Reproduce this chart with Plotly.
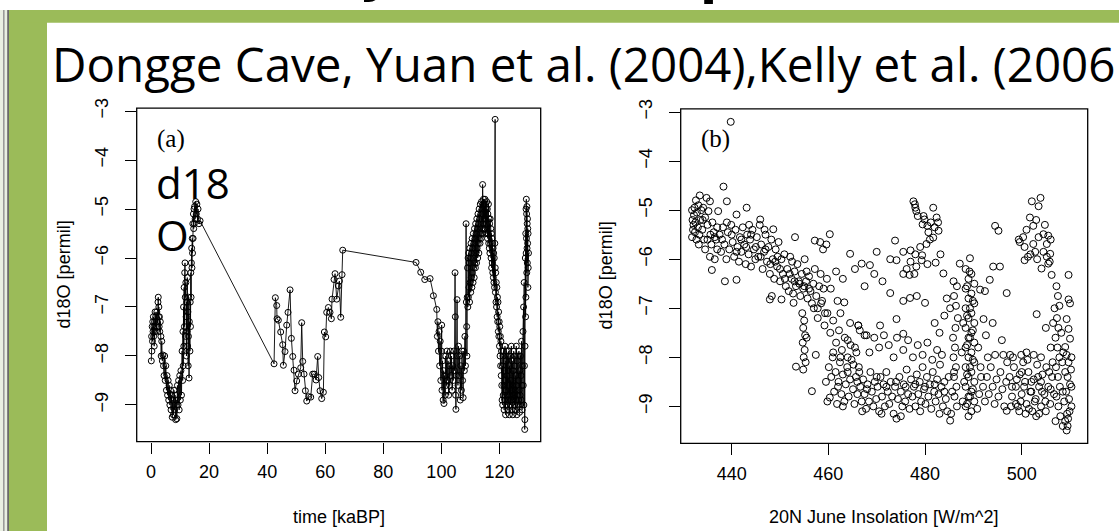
import plotly.graph_objects as go

W, H = 1119, 531

# ---------------- data: panel (a) time [kaBP] vs d18O ----------------
seg_holocene = [(0.1,-8.1),(0.2,-7.6),(0.3,-7.9),(0.4,-7.4),(0.5,-7.7),(0.6,-7.3),(0.7,-7.5),(0.8,-7.2),(0.9,-7.6),
    (1.0,-7.4),(1.1,-7.8),(1.2,-7.3),(1.3,-7.5),(1.4,-7.1),(1.5,-7.4),(1.6,-7.2),(1.8,-7.5),(2.0,-7.1),(2.2,-7.3),
    (2.4,-6.9),(2.5,-6.8),(2.6,-7.2),(2.7,-7.0),(2.8,-7.4),(2.9,-7.2),(3.0,-7.5),(3.2,-7.3),(3.4,-7.6),(3.5,-8.0),
    (3.7,-7.7),(3.9,-8.1),(4.1,-7.98),(4.3,-8.2)]
seg_deglacial = [(4.5,-8.4),(4.7,-8.0),(4.9,-8.5),(5.1,-8.2),(5.3,-8.7),(5.5,-8.4),(5.7,-8.8),(5.9,-8.5),(6.1,-8.9),
    (6.3,-8.6),(6.5,-9.0),(6.7,-8.7),(6.9,-9.1),(7.1,-8.8),(7.3,-9.25),(7.5,-8.9),(7.7,-9.2),(7.9,-8.7),(8.1,-9.1),
    (8.3,-8.8),(8.5,-9.3),(8.7,-8.9),(8.9,-9.28),(9.1,-8.6),(9.3,-9.0),(9.5,-8.5),(9.7,-9.1),(9.9,-8.4),(10.1,-8.9)]
seg_rise = [(10.3,-8.3),(10.5,-8.8),(10.7,-7.9),(10.9,-8.5),(11.0,-7.5),(11.1,-8.2),(11.2,-7.0),(11.3,-7.8),(11.4,-6.6),
    (11.5,-7.4),(11.6,-6.3),(11.7,-6.1),(11.8,-6.8),(11.9,-7.6),(12.0,-6.5),(12.1,-7.2),(12.2,-8.0),(12.3,-6.9),
    (12.4,-7.5),(12.5,-6.4),(12.6,-7.8),(12.7,-7.1),(12.8,-8.2),(12.9,-7.6),(13.0,-6.8),(13.1,-8.45),(13.2,-7.3),
    (13.4,-7.9),(13.5,-6.9),(13.6,-7.4),(13.7,-6.3),(13.8,-6.8),(13.9,-6.1),(14.0,-5.8),(14.1,-6.2),(14.2,-5.6),
    (14.3,-5.9),(14.4,-5.3),(14.5,-5.6),(14.6,-5.1),(14.7,-5.4),(14.8,-5.0),(14.9,-5.3),(15.0,-4.95),(15.2,-5.2),
    (15.4,-4.85),(15.6,-5.1),(15.8,-4.9),(16.0,-5.2),(16.2,-5.0),(16.5,-5.3),(16.9,-5.24)]
seg_sparse = [(42.37,-8.16),(42.82,-6.81),(43.28,-6.97),(43.4,-7.24),(43.86,-7.27),(44.66,-7.51),(45.35,-7.77),
    (45.58,-8.19),(46.15,-7.91),(46.73,-7.37),(47.19,-7.11),(47.88,-6.65),(48.34,-7.64),(48.8,-8.01),(49.25,-8.29),
    (49.6,-8.71),(50.17,-8.51),(50.75,-8.37),(51.55,-8.24),(51.89,-7.32),(52.24,-8.11),(52.7,-8.37),(53.16,-8.71),
    (53.62,-8.92),(54.31,-8.83),(55.0,-8.84),(55.68,-8.37),(56.26,-8.37),(56.83,-8.49),(57.4,-8.01),(57.75,-8.44),
    (58.21,-8.71),(58.78,-8.87),(59.36,-8.74),(59.7,-7.51),(60.16,-7.61),(60.5,-7.11),(61.08,-7.01),(61.65,-7.11),
    (62.11,-7.24),(62.34,-6.84),(63.03,-6.44),(63.38,-6.32),(63.95,-6.84),(64.52,-6.57),(64.87,-6.47),(65.33,-7.21),
    (65.79,-6.34),(66.02,-5.84),(91.27,-6.09),(92.88,-6.29),(94.26,-6.44),(96.1,-6.42),(97.24,-6.77),(98.39,-7.05)]
seg_mis5a = [(98.6,-7.6),(98.8,-7.3),(99.0,-7.9),(99.2,-7.5),(99.4,-8.2),(99.6,-7.7),(99.8,-8.5),(100.0,-7.9),
    (100.1,-7.37),(100.2,-8.7),(100.4,-8.1),(100.6,-8.9),(100.8,-8.3),(100.9,-8.97),(101.1,-8.4),(101.3,-8.8),(101.5,-8.0),
    (101.7,-8.6),(101.9,-7.9),(102.1,-8.5),(102.3,-8.1),(102.5,-8.8),(102.7,-8.2),(102.9,-8.6),(103.1,-7.9),
    (103.3,-8.4),(103.5,-8.0),(103.7,-8.7),(103.9,-8.2),(104.1,-8.5),(104.3,-7.9),(104.5,-8.3),(104.7,-6.3),
    (104.8,-7.2),(104.9,-8.8),(105.0,-9.09),(105.2,-8.4),(105.4,-6.85),(105.5,-8.0),(105.7,-8.6),(105.9,-7.8),
    (106.1,-8.4),(106.3,-8.0),(106.5,-8.9),(106.7,-8.2),(106.9,-8.7),(107.1,-7.9),(107.3,-8.5),(107.5,-8.85),
    (107.7,-7.9),(107.9,-8.3),(108.1,-7.6),(108.3,-8.2),(108.5,-5.3),(108.6,-6.9),(108.7,-7.4),(108.8,-8.0),(108.9,-6.8)]
seg_mis5c_up = [(109.0,-6.2),(109.1,-7.0),(109.2,-6.0),(109.3,-6.8),(109.4,-5.9),(109.5,-6.6),(109.6,-6.1),(109.7,-6.9),
    (109.8,-5.8),(109.9,-6.5),(110.0,-6.0),(110.1,-6.7),(110.2,-5.7),(110.3,-6.4),(110.4,-5.9),(110.5,-6.6),(110.6,-5.6),
    (110.7,-6.3),(110.8,-5.8),(110.9,-6.5),(111.0,-5.5),(111.1,-6.2),(111.2,-5.7),(111.3,-6.4),(111.4,-5.4),(111.5,-6.1),
    (111.6,-5.6),(111.7,-6.2),(111.8,-5.3),(111.9,-5.9),(112.0,-5.5),(112.1,-6.1),(112.2,-5.2),(112.3,-5.8),(112.4,-5.4),
    (112.5,-6.0),(112.6,-5.1),(112.7,-5.7),(112.8,-5.3),(112.9,-5.9),(113.0,-5.0),(113.1,-5.6),(113.2,-5.2),(113.3,-5.7),
    (113.4,-4.9),(113.5,-5.5),(113.6,-5.1),(113.7,-5.6),(113.8,-4.85),(113.9,-5.4),(114.0,-5.0),(114.1,-5.5),(114.2,-4.5),
    (114.3,-4.9),(114.4,-5.3),(114.5,-4.8),(114.6,-5.4),(114.7,-4.9),(114.8,-5.2)]
seg_mis5c_down = [(115.0,-4.8),(115.1,-5.4),(115.2,-4.9),(115.3,-5.5),(115.4,-5.0),(115.5,-5.3),(115.6,-4.85),(115.7,-5.5),
    (115.8,-5.0),(115.9,-5.6),(116.0,-5.1),(116.1,-5.5),(116.2,-4.9),(116.3,-5.7),(116.4,-5.2),(116.5,-5.8),(116.6,-5.3),
    (116.7,-5.9),(116.8,-5.2),(116.9,-5.7),(117.0,-5.4),(117.1,-6.0),(117.2,-5.5),(117.3,-6.2),(117.4,-5.6),(117.5,-6.1),
    (117.6,-5.7),(117.7,-6.3),(117.8,-5.8),(117.9,-6.4),(118.0,-5.9),(118.1,-6.5),(118.2,-6.0),(118.3,-6.6),(118.4,-5.7),
    (118.5,-3.17),(118.55,-6.2),(118.6,-6.7),(118.7,-6.3),(118.8,-6.9),(118.9,-6.5),(119.0,-7.0),(119.1,-6.6),(119.2,-7.2),
    (119.3,-6.8),(119.4,-7.3),(119.5,-6.9),(119.6,-7.5),(119.7,-7.1),(119.8,-7.6),(119.9,-7.3),(120.0,-7.8),(120.1,-7.4),
    (120.2,-8.0),(120.3,-7.6),(120.4,-8.2),(120.5,-7.7),(120.6,-8.4),(120.7,-7.9),(120.8,-8.6)]
seg_mis5e = [(120.9,-8.9),(121.0,-8.2),(121.1,-9.0),(121.2,-8.0),(121.3,-8.8),(121.4,-7.9),(121.5,-8.6),(121.6,-9.1),
    (121.7,-8.3),(121.8,-8.9),(121.9,-7.8),(122.0,-8.5),(122.1,-9.2),(122.2,-8.1),(122.3,-8.7),(122.4,-7.9),(122.5,-9.0),
    (122.6,-8.4),(122.7,-8.8),(122.8,-8.0),(122.9,-9.1),(123.0,-8.3),(123.1,-8.9),(123.2,-7.9),(123.3,-8.6),(123.4,-9.2),
    (123.5,-8.2),(123.6,-8.8),(123.7,-8.0),(123.8,-9.0),(123.9,-8.5),(124.0,-8.9),(124.1,-7.8),(124.2,-8.7),(124.3,-9.1),
    (124.4,-8.1),(124.5,-8.6),(124.6,-9.2),(124.7,-8.3),(124.8,-8.9),(124.9,-7.9),(125.0,-8.8),(125.1,-8.2),(125.2,-9.0),
    (125.3,-8.0),(125.4,-8.7),(125.5,-9.1),(125.6,-8.4),(125.7,-8.9),(125.8,-7.8),(125.9,-8.6),(126.0,-9.2),(126.1,-8.1),
    (126.2,-8.8),(126.3,-8.0),(126.4,-9.0),(126.5,-8.5),(126.6,-8.9),(126.7,-7.9),(126.8,-8.7),(126.9,-9.15),(127.0,-8.3),
    (127.1,-8.8),(127.2,-8.0),(127.3,-9.0),(127.4,-8.4),(127.5,-8.9),(127.6,-7.7),(127.7,-8.6),(127.8,-9.1),(127.9,-8.2)]
seg_termination2 = [(128.1,-7.5),(128.2,-8.6),(128.3,-7.0),(128.4,-9.0),(128.5,-6.5),(128.6,-8.2),(128.7,-9.5),
    (128.75,-9.3),(128.8,-7.8),(128.9,-6.0),(129.0,-7.2),(129.05,-5.5),(129.1,-6.8),(129.15,-5.0),(129.2,-5.9),
    (129.25,-4.8),(129.3,-5.6),(129.35,-5.1),(129.4,-6.3),(129.45,-4.95),(129.5,-5.8),(129.55,-5.3),(129.6,-6.1),
    (129.65,-5.2),(129.7,-5.7),(129.75,-5.4),(129.8,-6.6),(129.85,-5.5),(129.9,-6.2),(130.0,-5.9)]

# ---------------- data: panel (b) insolation vs d18O ----------------
b_upper_left = [(431.8,-5.0),(431.9,-5.2),(432.0,-5.4),(431.8,-5.55),(432.1,-5.3),(432.2,-5.1),(432.3,-4.95),(432.4,-5.45),
    (432.5,-5.25),(432.6,-4.8),(432.7,-5.6),(432.8,-5.05),(433.0,-5.35),(433.1,-4.9),(433.3,-5.5),(433.4,-4.7),(433.5,-5.2),
    (433.7,-5.0),(433.9,-5.4),(434.1,-4.95),(434.3,-5.6),(434.5,-5.15),(434.8,-4.75),(435.0,-5.3),(435.2,-5.02),(435.5,-4.82),
    (435.6,-5.5),(435.8,-5.7),(436.0,-5.25),(436.3,-5.45),(435.5,-5.95),(435.9,-6.22),(436.5,-6.0),(437.2,-5.02),(437.0,-5.8),
    (438.3,-4.52),(439.0,-4.82),(438.6,-6.45),(436.8,-5.6),(439.8,-3.2),(434.5,-5.8),(435.0,-5.6),(434.0,-5.2),(433.2,-5.7)]
b_band = [(437.5,-5.5),(437.8,-5.85),(438.2,-5.35),(438.5,-5.7),(438.9,-6.0),(439.2,-5.45),(439.5,-5.8),(439.9,-5.3),
    (440.2,-5.65),(440.5,-5.95),(440.8,-5.4),(441.0,-5.09),(441.2,-5.75),(441.5,-6.05),(441.7,-5.55),(442.0,-5.85),
    (442.3,-5.35),(442.6,-5.7),(442.9,-6.1),(443.1,-4.95),(443.2,-5.5),(443.5,-5.9),(443.8,-5.6),(444.0,-6.15),(444.3,-5.4),
    (444.6,-5.8),(444.9,-6.0),(445.2,-5.55),(445.5,-5.95),(445.8,-5.3),(446.1,-5.7),(446.4,-6.2),(446.7,-5.85),(447.0,-5.5),
    (447.3,-6.05),(447.6,-5.75),(447.9,-6.3),(448.2,-5.6),(448.3,-6.75),(448.5,-6.0),(448.8,-6.4),(449.1,-5.8),(449.4,-6.15),
    (449.7,-5.65),(450.0,-6.45),(450.3,-6.82),(450.3,-6.0),(450.6,-6.3),(450.9,-5.9),(451.2,-6.55),(451.5,-6.2),(451.8,-6.65),
    (452.1,-5.95),(452.4,-6.4),(452.7,-6.7),(452.8,-6.89),(453.0,-6.25),(453.3,-6.55),(453.6,-6.1),(453.9,-6.45),(454.2,-6.75),
    (454.5,-6.3),(454.8,-6.6),(455.1,-6.0),(455.4,-6.45),(455.7,-6.8),(456.0,-6.35),(456.3,-6.65),(456.6,-6.9),(456.9,-6.5),
    (457.2,-6.2),(457.5,-6.75),(457.8,-7.0),(458.1,-6.55),(458.4,-6.3),(458.7,-6.85),(459.0,-6.6),(459.3,-7.1),(459.7,-6.4),
    (445.9,-5.19),(448.6,-5.39),(453.1,-5.55),(457.2,-5.62),(458.3,-5.65),(460.3,-5.49),(459.6,-5.7),(458.9,-5.8),
    (441.0,-6.42),(447.9,-6.82),(436.5,-5.55),(437.0,-5.35),(438.0,-5.6),(439.0,-5.25),(440.0,-5.5),(441.0,-5.85),
    (442.0,-5.6),(443.0,-5.75),(444.0,-5.5),(445.0,-5.75),(446.0,-5.95),(447.0,-5.8),(448.0,-6.1),(449.0,-6.05),
    (450.0,-6.2),(451.0,-6.4),(452.0,-6.3),(453.0,-6.45),(454.0,-6.5),(455.0,-6.55),(456.0,-6.6),(443.6,-5.3),
    (446.8,-5.4),(449.5,-5.95),(452.5,-6.05),(455.5,-6.25)]
b_column_455 = [(454.6,-7.1),(455.0,-7.25),(454.8,-7.4),(455.2,-7.55),(454.7,-7.7),(455.1,-7.85),(454.9,-8.0),(455.3,-8.1),
    (454.8,-8.25),(453.3,-8.19),(456.6,-8.69),(457.4,-7.95),(455.5,-7.6)]
b_descending = [(457.0,-7.0),(457.8,-7.2),(458.5,-6.9),(459.2,-7.35),(459.8,-7.1),(460.4,-7.5),(461.0,-7.25),(461.6,-7.7),
    (462.2,-7.45),(462.8,-7.85),(463.4,-7.6),(464.0,-8.0),(464.6,-7.75),(465.2,-8.15),(465.8,-7.9),(466.4,-8.3),(461.9,-6.85),
    (463.3,-6.88),(460.5,-6.6),(462.5,-7.1),(464.5,-7.3),(466.2,-7.35),(467.5,-7.55)]
b_low = [(459.5,-8.5),(459.8,-8.9),(460.1,-8.2),(460.3,-8.82),(460.6,-8.4),(460.9,-8.0),(461.2,-8.7),(461.5,-8.3),
    (461.8,-8.95),(462.1,-8.5),(462.4,-8.1),(462.7,-8.75),(463.0,-8.35),(463.3,-8.9),(463.6,-8.55),(463.9,-8.2),(464.2,-8.8),
    (464.5,-8.45),(464.8,-8.05),(465.1,-8.65),(465.4,-8.95),(465.7,-8.4),(466.0,-8.75),(466.3,-8.2),(466.6,-8.6),(466.9,-8.9),
    (467.2,-8.45),(467.5,-8.75),(467.8,-9.05),(468.1,-8.55),(468.4,-8.9),(468.7,-8.3),(469.0,-8.7),(469.3,-9.0),(469.6,-8.5),
    (469.9,-8.85),(470.2,-8.6),(470.5,-9.1),(470.8,-8.4),(471.1,-8.8),(471.4,-8.55),(471.7,-9.0),(472.0,-8.3),(472.3,-8.7),
    (472.6,-8.95),(472.9,-8.5),(473.2,-8.8),(473.5,-9.15),(473.8,-8.6),(474.1,-9.25),(474.4,-8.85),(474.7,-8.4),(475.0,-8.7),
    (475.3,-9.0),(475.6,-8.55),(475.9,-8.9),(476.2,-8.25),(476.5,-8.75),(476.8,-9.05),(477.1,-8.45),(477.4,-8.8),(477.7,-8.6),
    (478.0,-9.0),(478.3,-8.35),(478.6,-8.75),(478.9,-8.5),(479.2,-8.9),(479.5,-8.2),(479.8,-8.65),(480.1,-8.95),(480.4,-8.4),
    (480.7,-8.8),(481.0,-8.55),(481.3,-9.05),(481.6,-8.3),(481.9,-8.7),(482.2,-8.9),(482.5,-8.45),(482.8,-8.75),(483.1,-8.15),
    (483.4,-8.6),(483.7,-9.0),(484.0,-8.5),(484.3,-8.85),(484.6,-9.1),(484.9,-8.4),(485.2,-9.29),(485.4,-9.15),(485.6,-8.7),
    (486.0,-8.3),(492.0,-8.6),(492.4,-8.9),(492.8,-8.4),(493.2,-8.75),(493.6,-8.2),(494.0,-8.6),(494.4,-8.95),(494.8,-8.45),
    (495.2,-8.8),(495.6,-8.3),(496.0,-8.65),(496.4,-9.0),(496.9,-9.09),(496.8,-8.5),(491.2,-8.75),(490.8,-9.05),(491.6,-8.4),
    (462.0,-8.6),(464.0,-8.3),(466.0,-8.5),(468.0,-8.65),(470.0,-8.4),(472.0,-8.6),(474.0,-8.5),(476.0,-8.6),(478.0,-8.55),
    (480.0,-8.6),(482.0,-8.55),(484.0,-8.7),(463.0,-9.0),(467.0,-9.1),(471.0,-9.15),(475.0,-9.2),(479.0,-9.1),(483.0,-9.15)]
b_low_upper = [(461.0,-7.9),(462.5,-8.0),(464.0,-7.65),(465.5,-7.8),(466.5,-7.45),(467.9,-7.55),(468.5,-7.9),(469.5,-7.6),
    (470.5,-7.8),(471.5,-7.55),(472.5,-7.75),(473.5,-8.0),(474.2,-7.6),(475.5,-7.85),(476.5,-7.65),(477.5,-8.0),(478.5,-7.75),
    (479.5,-7.95),(480.5,-7.7),(481.5,-8.05),(482.5,-7.85),(483.5,-7.95)]
b_towers = [(485.8,-7.6),(486.2,-7.8),(485.9,-8.0),(486.4,-8.2),(486.0,-8.4),(486.5,-8.6),(486.1,-8.8),(486.6,-9.0),
    (486.3,-7.4),(486.8,-7.2),(486.4,-6.95),(486.0,-6.75),
    (488.4,-6.2),(489.6,-6.3),(489.0,-6.4),(490.2,-6.5),(488.4,-6.6),(489.6,-6.7),(489.0,-6.8),(490.2,-6.9),(488.4,-7.0),
    (489.6,-7.1),(489.0,-7.2),(490.2,-7.3),(488.4,-7.4),(489.6,-7.5),(489.0,-7.6),(490.2,-7.7),(488.4,-7.8),(489.6,-7.9),
    (489.0,-8.0),(490.2,-8.1),(488.4,-8.2),(489.6,-8.3),(489.0,-8.4),(490.2,-8.5),(488.4,-8.6),(489.6,-8.7),(489.0,-8.8),
    (490.2,-8.9),(488.4,-9.0),(489.6,-9.1),(489.0,-9.2),(489.2,-6.25),(488.7,-6.55),(489.9,-6.85),(488.7,-7.15),(489.9,-7.45),
    (488.7,-7.75),(489.9,-8.05),(488.7,-8.35),(489.9,-8.65),(488.7,-8.95),(489.3,-7.0),(489.3,-7.6),(489.3,-8.2),(489.3,-8.8),
    (488.1,-8.5),(487.8,-8.9),(487.6,-7.9),(487.9,-7.3)]
b_scatter_mid = [(464.5,-5.89),(466.9,-6.09),(468.6,-6.12),(470.0,-5.85),(472.8,-6.0),(474.1,-6.02),(475.5,-5.85),
    (477.0,-5.82),(479.4,-5.92),(480.5,-6.1),(482.2,-6.07),(483.2,-5.9),(480.3,-5.69),(481.7,-5.56),(473.8,-5.62),(472.8,-6.69),
    (476.9,-6.79),(475.5,-6.85),(478.3,-6.75),(480.0,-6.89),(474.1,-7.22),(470.7,-7.35),(475.5,-7.52),(466.2,-7.35),
    (483.8,-6.29),(485.9,-6.45),(486.6,-6.55),(487.2,-6.09),(489.3,-5.98),(491.4,-6.62),(492.4,-6.65),(493.4,-6.42),
    (494.1,-6.15),(495.5,-6.15),(494.5,-5.32),(495.2,-5.42),(496.9,-6.69),(492.1,-7.22),(495.9,-7.65),(494.5,-7.95),
    (496.2,-7.95),(497.6,-7.95),(497.0,-8.1),(461.6,-6.25),(463.0,-6.4),(465.5,-6.2),(467.5,-6.55),(469.5,-6.3),(471.2,-6.45),
    (477.8,-6.3),(479.3,-6.02),(478.2,-6.15),(476.8,-6.32),(484.5,-6.8),(485.2,-7.0),(484.0,-7.15),(483.0,-7.5),
    (482.0,-7.3),(491.0,-7.8),(492.6,-7.55),(494.0,-7.3),(493.0,-8.0),(491.5,-8.2)]
b_cluster_480 = [(477.6,-4.82),(477.9,-4.88),(478.2,-5.02),(478.5,-5.12),(479.5,-5.29),(480.5,-5.32),(481.7,-4.95),
    (482.4,-5.15),(482.8,-5.42),(480.7,-5.45),(479.7,-5.12),(479.9,-5.19),(478.0,-4.95),(481.2,-5.25),(482.0,-5.35),
    (482.7,-5.25),(481.0,-5.6),(479.0,-5.75),(478.0,-5.9),(477.0,-6.05),(476.2,-6.2),(475.5,-6.3)]
b_cluster_502 = [(502.1,-4.82),(503.9,-4.75),(503.5,-4.92),(501.7,-5.15),(502.4,-5.32),(500.3,-5.55),(499.6,-5.65),
    (500.6,-5.75),(501.3,-5.95),(502.4,-5.69),(503.5,-5.55),(504.5,-5.49),(505.2,-5.69),(505.5,-5.52),(505.9,-5.89),
    (505.2,-5.95),(505.5,-6.09),(504.1,-6.19),(506.2,-6.32),(500.6,-6.02),(502.8,-5.85),(504.5,-5.85),(499.4,-5.6),
    (501.0,-5.4),(503.0,-5.2),(504.8,-5.3),(506.0,-5.6),(505.8,-6.05),(501.8,-5.9),(503.2,-6.0)]
b_right_columns = [(509.7,-6.32),(509.7,-6.82),(510.0,-6.9),(509.3,-7.22),(509.7,-7.42),(510.0,-7.62),(509.0,-7.79),
    (509.3,-7.95),(509.7,-8.1),(510.2,-8.25),(509.5,-8.4),(510.0,-8.55),(509.2,-8.7),(509.8,-8.85),(510.3,-9.0),(509.4,-9.15),
    (509.0,-9.3),(509.5,-9.4),(509.3,-9.49),(509.6,-9.25),(510.3,-8.0),(510.3,-8.6),(509.0,-8.3),(508.8,-8.9),(509.9,-9.1),
    (507.2,-6.55),(507.5,-6.75),(507.8,-6.95),(507.3,-7.2),(507.6,-7.4),(507.0,-7.6),(507.4,-7.8),(507.8,-8.0),(507.1,-8.2),
    (507.5,-8.4),(507.9,-8.6),(507.2,-8.8),(507.6,-9.0),(508.2,-7.5),(508.4,-8.1),(508.5,-8.7),(508.0,-9.2),(508.6,-7.9),
    (506.5,-7.3),(506.8,-7.0),(503.1,-7.12),(505.0,-7.4),(506.0,-7.8),(507.0,-9.3),(508.5,-9.4)]
b_blob_502 = [(497.5,-8.4),(498.0,-8.8),(498.4,-8.2),(498.8,-8.6),(499.2,-9.0),(499.6,-8.35),(500.0,-8.75),(500.3,-8.1),
    (500.7,-8.5),(501.0,-8.95),(501.4,-8.3),(501.8,-8.7),(502.2,-9.1),(502.5,-8.45),(502.9,-8.85),(503.2,-8.15),(503.6,-8.6),
    (504.0,-9.0),(504.3,-8.35),(504.7,-8.75),(505.1,-8.2),(505.5,-8.6),(505.9,-8.95),(506.3,-8.4),(506.7,-8.75),(498.2,-8.0),
    (499.0,-8.45),(499.8,-8.9),(500.5,-8.6),(501.2,-8.05),(502.0,-8.5),(502.7,-8.9),(503.4,-8.4),(504.2,-8.7),(504.9,-8.9),
    (505.7,-8.3),(506.4,-8.1),(497.8,-9.0),(499.5,-9.1),(501.5,-9.05),(503.6,-9.15),(505.0,-9.1),(501.0,-7.9),(502.5,-7.95),
    (504.0,-8.0),(499.9,-7.95),(498.8,-8.95),(498.0,-8.6),(500.0,-8.3),(502.0,-8.7),(504.0,-8.5),(506.0,-8.65),
    (500.8,-9.15),(503.0,-9.2)]

x_ticks_a = [0, 20, 40, 60, 80, 100, 120]
x_ticks_b = [440, 460, 480, 500]
y_ticks = [-3, -4, -5, -6, -7, -8, -9]

subtitle = "Dongge Cave, Yuan et al. (2004),Kelly et al. (2006"
x_title_a = "time [kaBP]"
x_title_b = "20N June Insolation [W/m^2]"
y_title = "d18O [permil]"

# ---------------- assemble ----------------
segs_a = [seg_holocene, seg_deglacial, seg_rise, seg_sparse, seg_mis5a, seg_mis5c_up,
          seg_mis5c_down, seg_mis5e, seg_termination2]
time_ka = [p[0] for s in segs_a for p in s]
d18o_a = [p[1] for s in segs_a for p in s]
segs_b = [b_upper_left, b_band, b_column_455, b_descending, b_low, b_low_upper, b_towers,
          b_scatter_mid, b_cluster_480, b_cluster_502, b_right_columns, b_blob_502]
insolation = [p[0] for s in segs_b for p in s]
d18o_b = [p[1] for s in segs_b for p in s]


def px(x):
    return x / W


def py(y):
    return 1 - y / H


fig = go.Figure()
fig.add_trace(go.Scatter(
    x=time_ka, y=d18o_a, mode="lines+markers", xaxis="x", yaxis="y",
    line=dict(color="black", width=0.9),
    marker=dict(symbol="circle-open", size=6, color="black", line=dict(width=1)),
    showlegend=False, hoverinfo="skip"))
fig.add_trace(go.Scatter(
    x=insolation, y=d18o_b, mode="markers", xaxis="x2", yaxis="y2",
    marker=dict(symbol="circle-open", size=7, color="black", line=dict(width=1)),
    showlegend=False, hoverinfo="skip"))

tickfont = dict(family="Liberation Sans, Arial, sans-serif", size=18, color="black")
common = dict(showgrid=False, zeroline=False, showline=False, ticks="outside", ticklen=11,
              tickwidth=1, tickcolor="black", tickfont=tickfont)

fig.update_layout(
    width=W, height=H, margin=dict(l=0, r=0, t=0, b=0),
    paper_bgcolor="white", plot_bgcolor="white",
    xaxis=dict(domain=[px(136.7), px(540.7)], range=[-4.93, 134.2], tickvals=x_ticks_a,
               anchor="y", ticklabelstandoff=3, **common),
    yaxis=dict(domain=[py(440), py(100)], range=[-9.75, -2.94], tickvals=y_ticks,
               tickangle=-90, anchor="x", ticklabelstandoff=10, **common),
    xaxis2=dict(domain=[px(680.7), px(1087.7)], range=[429.45, 513.66], tickvals=x_ticks_b,
                anchor="y2", ticklabelstandoff=3, **common),
    yaxis2=dict(domain=[py(441.7), py(100.7)], range=[-9.754, -2.934], tickvals=y_ticks,
                tickangle=-90, anchor="x2", ticklabelstandoff=10, **common),
)

green = "#9BBB59"
shapes = [
    dict(type="rect", xref="paper", yref="paper", x0=0, x1=px(47), y0=0, y1=1,
         fillcolor=green, line=dict(width=0), layer="below"),
    dict(type="rect", xref="paper", yref="paper", x0=0, x1=1, y0=py(13), y1=1,
         fillcolor=green, line=dict(width=0), layer="below"),
    dict(type="rect", xref="paper", yref="paper", x0=0, x1=px(9), y0=0, y1=1,
         fillcolor="#e9efe2", line=dict(width=0), layer="below"),
    dict(type="rect", xref="paper", yref="paper", x0=px(3), x1=px(4.6), y0=0, y1=1,
         fillcolor="#9a9a9a", line=dict(width=0), layer="below"),
    dict(type="rect", xref="paper", yref="paper", x0=px(7.2), x1=px(9), y0=0, y1=1,
         fillcolor="#6a6a6a", line=dict(width=0), layer="below"),
    dict(type="rect", xref="x domain", yref="y domain", x0=0, x1=1, y0=0, y1=1,
         line=dict(color="black", width=1.3)),
    dict(type="rect", xref="x2 domain", yref="y2 domain", x0=0, x1=1, y0=0, y1=1,
         line=dict(color="black", width=1.3)),
]
fig.update_layout(shapes=shapes)

axfont = dict(family="Liberation Sans, Arial, sans-serif", size=18, color="black")
big = dict(family="Open Sans, DejaVu Sans, sans-serif", size=47.5, color="black")
ann = [
    dict(text=subtitle, x=px(50), y=py(55), xanchor="left", yanchor="middle", font=big),
    dict(text="d18", x=px(154), y=py(176), xanchor="left", yanchor="middle",
         font=dict(family="Open Sans, DejaVu Sans, sans-serif", size=42, color="black")),
    dict(text="O", x=px(154), y=py(229), xanchor="left", yanchor="middle",
         font=dict(family="Open Sans, DejaVu Sans, sans-serif", size=42, color="black")),
    dict(text="(a)", x=px(171), y=py(131), xanchor="center", yanchor="middle",
         font=dict(family="Liberation Serif, Times New Roman, serif", size=25, color="black")),
    dict(text="(b)", x=px(715), y=py(131), xanchor="center", yanchor="middle",
         font=dict(family="Liberation Serif, Times New Roman, serif", size=25, color="black")),
    dict(text=x_title_a, x=px(339), y=py(517), xanchor="center", yanchor="middle", font=axfont),
    dict(text=x_title_b, x=px(884), y=py(517), xanchor="center", yanchor="middle", font=axfont),
    dict(text=y_title, x=px(63.5), y=py(270), xanchor="center", yanchor="middle", textangle=-90, font=axfont),
    dict(text=y_title, x=px(605.5), y=py(271), xanchor="center", yanchor="middle", textangle=-90, font=axfont),
    dict(text="y", x=px(357), y=py(-4), xanchor="left", yanchor="bottom",
         font=dict(family="DejaVu Sans", size=50, color="black", weight="bold")),
    dict(text="p", x=px(698), y=py(-2), xanchor="left", yanchor="bottom",
         font=dict(family="DejaVu Sans", size=50, color="black", weight="bold")),
]
for a in ann:
    a.update(xref="paper", yref="paper", showarrow=False)
fig.update_layout(annotations=ann)

fig.write_html("out.html", config={"displayModeBar": False},
               post_script="document.body.style.margin='0px';document.body.style.padding='0px';")
